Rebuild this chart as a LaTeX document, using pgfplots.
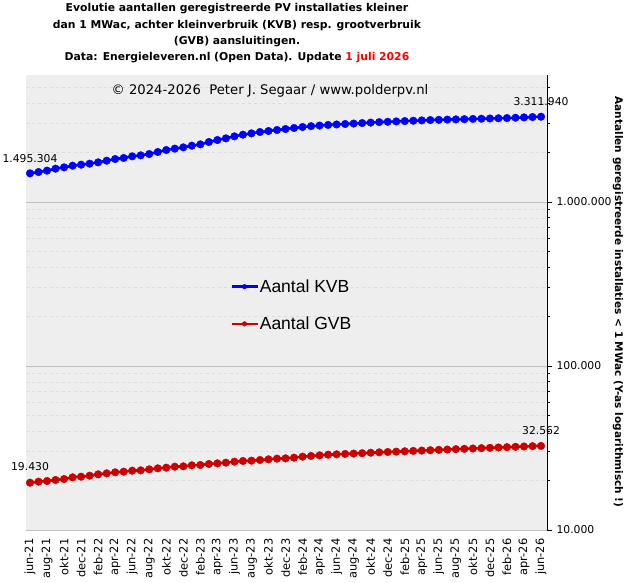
\documentclass[border=0pt]{standalone}
\usepackage{fontspec}
\setmainfont{DejaVu Sans}
\newfontfamily\lsans{Liberation Sans}
\usepackage{pgfplots}
\pgfplotsset{compat=1.18}
\definecolor{kvb}{HTML}{0000FF}
\definecolor{gvb}{HTML}{CC0000}
\definecolor{bgc}{HTML}{EEEEEE}
\definecolor{majg}{HTML}{C0C0C0}
\definecolor{ming}{HTML}{DCDCDC}
\begin{document}
\begin{tikzpicture}
\useasboundingbox (0pt,0pt) rectangle (634pt,582pt);
\begin{axis}[
  at={(26pt,52pt)}, anchor=south west,
  width=521pt, height=455pt, scale only axis,
  ymode=log, ymin=10000, ymax=5950000,
  xmin=-0.47, xmax=60.7,
  clip=false,
  axis background/.style={fill=bgc},
  axis x line*=bottom, axis y line*=right,
  x axis line style={-,draw=majg},
  y axis line style={-,draw=black,line width=1pt},
  xtick={0,2,...,60},
  xticklabels={jun-21,aug-21,okt-21,dec-21,feb-22,apr-22,jun-22,aug-22,okt-22,dec-22,feb-23,apr-23,jun-23,aug-23,okt-23,dec-23,feb-24,apr-24,jun-24,aug-24,okt-24,dec-24,feb-25,apr-25,jun-25,aug-25,okt-25,dec-25,feb-26,apr-26,jun-26},
  xticklabel style={rotate=90, anchor=east, font=\fontsize{11.4}{12}\selectfont},
  xtick style={draw=none},
  ytick={10000,100000,1000000},
  yticklabels={10.000,100.000,1.000.000},
  minor ytick={20000,30000,40000,50000,60000,70000,80000,90000,200000,300000,400000,500000,600000,700000,800000,900000,2000000,3000000,4000000,5000000},
  ytick pos=right, yticklabel pos=right,
  tick align=outside,
  major tick length=5pt, minor tick length=3pt,
  ytick style={draw=black, line width=0.8pt},
  yticklabel style={font=\fontsize{10.8}{12}\selectfont, xshift=1pt},
  ymajorgrids=true, yminorgrids=true,
  major grid style={draw=majg, line width=0.9pt},
  minor grid style={draw=ming, dashed, line width=0.7pt},
  legend style={at={(0.3916,0.553)}, anchor=north west, draw=none, fill=none,
    font=\lsans\fontsize{17.5}{20}\selectfont, row sep=21pt, inner sep=0pt,
    nodes={inner sep=1pt}},
  legend cell align=left,
  legend image code/.code={\draw[#1,mark repeat=2,mark phase=2,mark size=2.3pt] plot coordinates {(0pt,0pt) (13pt,0pt) (26pt,0pt)};},
]
\addplot[color=kvb, line width=2.6pt, mark=*, mark size=3.8pt, mark options={solid, line width=0.4pt}] coordinates {
(0,1495304)(1,1523000)(2,1553000)(3,1597000)(4,1627000)(5,1665000)(6,1689000)(7,1713000)(8,1745000)(9,1786000)
(10,1829000)(11,1855000)(12,1899000)(13,1926000)(14,1962000)(15,2018000)(16,2075000)(17,2115000)(18,2154000)(19,2205000)
(20,2247000)(21,2322000)(22,2388000)(23,2444000)(24,2514000)(25,2574000)(26,2622000)(27,2672000)(28,2710000)(29,2748000)
(30,2787000)(31,2827000)(32,2867000)(33,2900000)(34,2925000)(35,2950000)(36,2970000)(37,2990000)(38,3010000)(39,3030000)
(40,3050000)(41,3070000)(42,3085000)(43,3100000)(44,3115000)(45,3130000)(46,3145000)(47,3160000)(48,3170000)(49,3180000)
(50,3190000)(51,3200000)(52,3210000)(53,3220000)(54,3230000)(55,3240000)(56,3250000)(57,3265000)(58,3280000)(59,3296000)
(60,3311940)};
\addlegendentry{Aantal KVB}
\addplot[color=gvb, line width=2.6pt, mark=*, mark size=3.8pt, mark options={solid, line width=0.4pt}] coordinates {
(0,19430)(1,19710)(2,19900)(3,20180)(4,20460)(5,20950)(6,21140)(7,21440)(8,21850)(9,22160)
(10,22470)(11,22680)(12,23000)(13,23110)(14,23440)(15,23770)(16,23990)(17,24330)(18,24450)(19,24790)
(20,24910)(21,25260)(22,25500)(23,25740)(24,26100)(25,26350)(26,26470)(27,26720)(28,26980)(29,27230)
(30,27350)(31,27610)(32,28000)(33,28270)(34,28530)(35,28800)(36,28950)(37,29100)(38,29250)(39,29400)
(40,29600)(41,29750)(42,29900)(43,30050)(44,30200)(45,30350)(46,30500)(47,30650)(48,30800)(49,30950)
(50,31100)(51,31250)(52,31400)(53,31550)(54,31700)(55,31850)(56,32000)(57,32150)(58,32300)(59,32450)
(60,32562)};
\addlegendentry{Aantal GVB}
\node[font=\fontsize{10.8}{12}\selectfont, yshift=15pt] at (axis cs:0,1495304) {1.495.304};
\node[font=\fontsize{10.8}{12}\selectfont, yshift=15pt] at (axis cs:60,3311940) {3.311.940};
\node[font=\fontsize{10.8}{12}\selectfont, yshift=16pt] at (axis cs:0,19430) {19.430};
\node[font=\fontsize{10.8}{12}\selectfont, yshift=15pt] at (axis cs:60,32562) {32.562};
\end{axis}
% titles
\node[font=\bfseries\fontsize{10.8}{12}\selectfont] at (237pt,573pt) {Evolutie aantallen geregistreerde PV installaties kleiner};
\node[font=\bfseries\fontsize{10.8}{12}\selectfont] at (237pt,556pt) {dan 1 MWac, achter kleinverbruik (KVB) resp. grootverbruik};
\node[font=\bfseries\fontsize{10.8}{12}\selectfont] at (237pt,540pt) {(GVB) aansluitingen.};
\node[font=\bfseries\fontsize{10.8}{12}\selectfont] at (237pt,524pt) {Data: Energieleveren.nl (Open Data). Update \textcolor{red}{1 juli 2026}};
\node[font=\fontsize{13.2}{15}\selectfont] at (270pt,491pt) {© 2024-2026\ \ Peter J. Segaar / www.polderpv.nl};
\node[font=\bfseries\fontsize{10.5}{12}\selectfont, rotate=-90] at (618pt,280pt) {Aantallen geregistreerde installaties < 1 MWac (Y-as logarithmisch !)};
\end{tikzpicture}
\end{document}
